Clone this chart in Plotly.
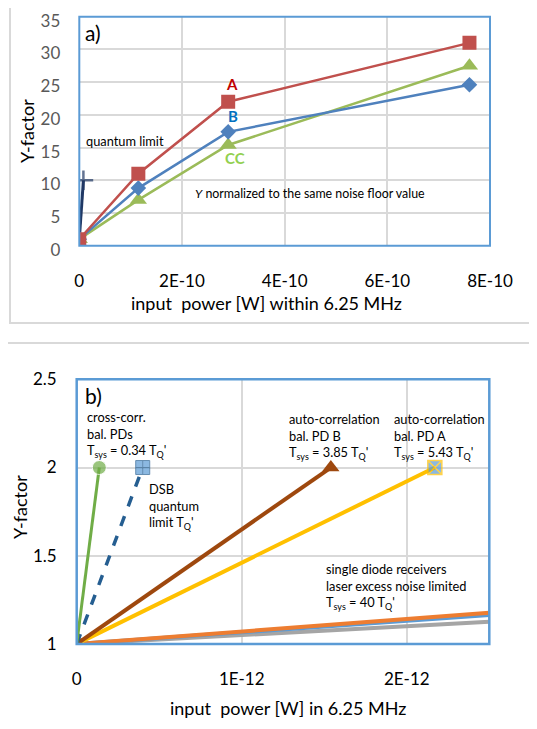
import plotly.graph_objects as go

# ---------- panel a data ----------
a_x = [0, 1.15e-10, 2.9e-10, 7.6e-10]
a_A = [1, 11.0, 22.0, 31.0]
a_B = [1, 8.8, 17.4, 24.6]
a_CC = [1, 7.0, 15.4, 27.5]
a_ql_x = [0, 0.08e-10]
a_ql_y = [1, 10.0]
a_xticks = [0, 2e-10, 4e-10, 6e-10, 8e-10]
a_xticklabels = ["0", "2E-10", "4E-10", "6E-10", "8E-10"]
a_yticks = [0, 5, 10, 15, 20, 25, 30, 35]

# ---------- panel b data ----------
b_cc_x = [0, 0.137e-12]
b_cc_y = [1, 2]
b_dsb_x = [0, 0.40e-12]
b_dsb_y = [1, 2]
b_autoB_x = [0, 1.54e-12]
b_autoB_y = [1, 2]
b_autoA_x = [0, 2.17e-12]
b_autoA_y = [1, 2]
b_single_x = [0, 2.5e-12]
b_single_blue = [1, 1.165]
b_single_orange = [1, 1.177]
b_single_gray = [1, 1.126]
b_xticks = [0, 1e-12, 2e-12]
b_xticklabels = ["0", "1E-12", "2E-12"]
b_yticks = [1, 1.5, 2, 2.5]
b_yticklabels = ["1", "1.5", "2", "2.5"]

FONT = "Lato"
W, H = 537, 729
OFF = 8  # page body margin of the html page


def px(x):
    return (x - OFF) / W


def py(y):
    return 1 - (y - OFF) / H


fig = go.Figure()

# panel a traces
fig.add_trace(go.Scatter(x=a_ql_x, y=a_ql_y, mode="lines+markers", xaxis="x", yaxis="y",
                         line=dict(color="#1F3864", width=3),
                         marker=dict(symbol=["line-ns-open", "cross-thin-open"], size=[0, 14],
                                     line=dict(color="#1F3864", width=2.5)),
                         showlegend=False))
fig.add_trace(go.Scatter(x=a_x, y=a_CC, mode="lines+markers", xaxis="x", yaxis="y",
                         line=dict(color="#9BBB59", width=2.5),
                         marker=dict(symbol="triangle-up", size=15, color="#9BBB59"),
                         showlegend=False))
fig.add_trace(go.Scatter(x=a_x, y=a_B, mode="lines+markers", xaxis="x", yaxis="y",
                         line=dict(color="#4F81BD", width=2.5),
                         marker=dict(symbol="diamond", size=12, color="#4F81BD"),
                         showlegend=False))
fig.add_trace(go.Scatter(x=a_x, y=a_A, mode="lines+markers", xaxis="x", yaxis="y",
                         line=dict(color="#C0504D", width=2.5),
                         marker=dict(symbol="square", size=14, color="#C0504D"),
                         showlegend=False))

# panel b traces
fig.add_trace(go.Scatter(x=b_single_x, y=b_single_gray, mode="lines", xaxis="x2", yaxis="y2",
                         line=dict(color="#A5A5A5", width=4), showlegend=False))
fig.add_trace(go.Scatter(x=b_single_x, y=b_single_blue, mode="lines", xaxis="x2", yaxis="y2",
                         line=dict(color="#5B9BD5", width=4), showlegend=False))
fig.add_trace(go.Scatter(x=b_single_x, y=b_single_orange, mode="lines+markers", xaxis="x2", yaxis="y2",
                         line=dict(color="#ED7D31", width=4),
                         marker=dict(symbol="square", size=[13, 0], color="#ED7D31"),
                         showlegend=False))
fig.add_trace(go.Scatter(x=b_autoA_x, y=b_autoA_y, mode="lines+markers", xaxis="x2", yaxis="y2",
                         line=dict(color="#FFC000", width=4),
                         marker=dict(symbol="square-x", size=[0, 14], color="#5B9BD5",
                                     line=dict(color="#FFC000", width=1.5)),
                         showlegend=False))
fig.add_trace(go.Scatter(x=b_autoB_x, y=b_autoB_y, mode="lines+markers", xaxis="x2", yaxis="y2",
                         line=dict(color="#9E480E", width=4),
                         marker=dict(symbol="triangle-up", size=15, color="#9E480E"),
                         showlegend=False))
fig.add_trace(go.Scatter(x=b_dsb_x, y=b_dsb_y, mode="lines+markers", xaxis="x2", yaxis="y2",
                         line=dict(color="#255E91", width=3.5, dash="dash"),
                         marker=dict(symbol="square-cross", size=[0, 14], color="#5B9BD5",
                                     line=dict(color="#255E91", width=1)),
                         showlegend=False))
fig.add_trace(go.Scatter(x=b_cc_x, y=b_cc_y, mode="lines+markers", xaxis="x2", yaxis="y2",
                         line=dict(color="#70AD47", width=3),
                         marker=dict(symbol="circle", size=[0, 14], color="#70AD47"),
                         showlegend=False))


def axis(**kw):
    d = dict(showgrid=True, gridcolor="#D9D9D9", gridwidth=1.5, zeroline=False,
             showline=False, ticks="", automargin=False, ticklabeloverflow="allow",
             tickfont=dict(family=FONT, size=17, color="#000000"))
    d.update(kw)
    return d


fig.update_layout(
    width=W, height=H,
    margin=dict(l=0, r=0, t=0, b=0, autoexpand=False),
    paper_bgcolor="white", plot_bgcolor="white",
    font=dict(family=FONT, color="#000000"),
    xaxis=axis(domain=[px(79.3), px(490)], range=[0, 8e-10], anchor="y",
               tickvals=a_xticks, ticktext=a_xticklabels, ticklabelstandoff=23),
    yaxis=axis(domain=[py(245.7), py(16.7)], range=[0, 35], anchor="x",
               tickvals=a_yticks, ticklabelstandoff=18, ticklabelshift=4,
               tickfont=dict(family=FONT, size=17, color="#595959")),
    xaxis2=axis(domain=[px(76.7), px(489.3)], range=[0, 2.5e-12], anchor="y2",
                tickvals=b_xticks, ticktext=b_xticklabels, ticklabelstandoff=23),
    yaxis2=axis(domain=[py(644), py(379.3)], range=[1, 2.5], anchor="x2",
                tickvals=b_yticks, ticktext=b_yticklabels, ticklabelstandoff=19),
)

shapes = [
    dict(type="rect", xref="paper", yref="paper", x0=px(10), x1=1.05, y0=py(323), y1=py(4),
         line=dict(color="#D9D9D9", width=2), layer="below"),
    dict(type="rect", xref="paper", yref="paper", x0=px(4), x1=1.05, y0=-0.05, y1=py(343),
         line=dict(color="#D9D9D9", width=2), layer="below"),
    dict(type="rect", xref="x domain", yref="y domain", x0=0, x1=1, y0=0, y1=1,
         line=dict(color="#5B9BD5", width=2)),
    dict(type="rect", xref="x2 domain", yref="y2 domain", x0=0, x1=1, y0=0, y1=1,
         line=dict(color="#5B9BD5", width=2.5)),
]
fig.update_layout(shapes=shapes)


def ann(text, x, y, size=12, color="#000", xanchor="left", yanchor="top", bold=False,
        align="left", textangle=0):
    if bold:
        text = "<b>" + text + "</b>"
    return dict(text=text, xref="paper", yref="paper", x=px(x), y=py(y), showarrow=False,
                xanchor=xanchor, yanchor=yanchor, align=align, textangle=textangle,
                font=dict(family=FONT, size=size, color=color))


Tq = "T<sub>Q</sub>'"
Ts = "T<sub>sys</sub>"
annotations = [
    # axis titles
    ann("input  power [W] within 6.25 MHz", 266, 303, size=18, xanchor="center", yanchor="middle"),
    ann("Y-factor", 27, 131, size=18, xanchor="center", yanchor="middle", textangle=-90),
    ann("input  power [W] in 6.25 MHz", 288, 708, size=18, xanchor="center", yanchor="middle"),
    ann("Y-factor", 20, 507, size=18, xanchor="center", yanchor="middle", textangle=-90),
    # panel a
    ann("a)", 83, 18, size=21),
    ann("quantum limit", 84, 131, size=12.8),
    ann("A", 232, 84, size=15, color="#C00000", bold=True, xanchor="center", yanchor="middle"),
    ann("B", 233, 116, size=15, color="#0070C0", bold=True, xanchor="center", yanchor="middle"),
    ann("CC", 235, 158, size=15, color="#92D050", bold=True, xanchor="center", yanchor="middle"),
    ann("<i>Y</i> normalized to the same noise floor value", 193, 184, size=12.4),
    # panel b
    ann("b)", 83, 381, size=21),
    ann("cross-corr.<br>bal. PDs<br>" + Ts + " = 0.34 " + Tq, 85, 407, size=12.8),
    ann("auto-correlation<br>bal. PD B<br>" + Ts + " = 3.85 " + Tq, 287, 409, size=12.8),
    ann("auto-correlation<br>bal. PD A<br>" + Ts + " = 5.43 " + Tq, 392, 409, size=12.8),
    ann("DSB<br>quantum<br>limit " + Tq, 147, 479, size=12.8),
    ann("single diode receivers<br>laser excess noise limited<br>" + Ts + " = 40 " + Tq, 324, 559, size=12.8),
]
fig.update_layout(annotations=annotations)

fig.write_html("out.html")
